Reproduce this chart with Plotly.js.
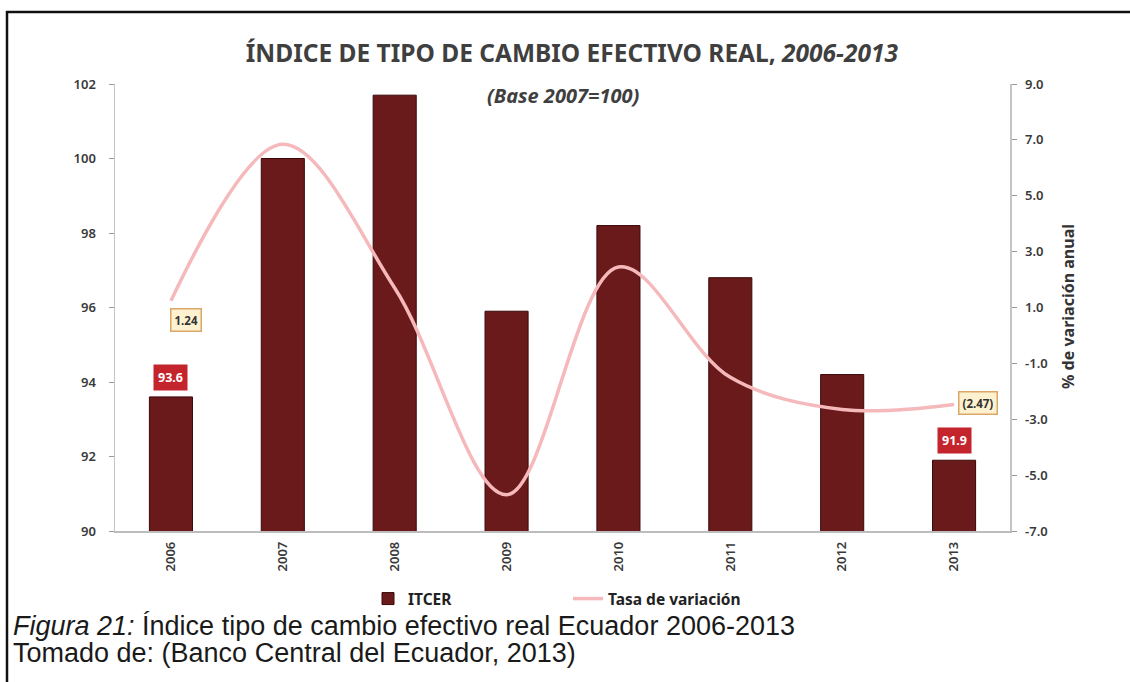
<!DOCTYPE html>
<html>
<head>
<meta charset="utf-8">
<script src="https://cdn.plot.ly/plotly-3.0.1.min.js"></script>
<style>html,body{margin:0;padding:0;background:#fff;}#chart{width:1130px;height:682px;}</style>
</head>
<body>
<div id="chart"></div>
<script>
// ---- data ----
var years = ['2006', '2007', '2008', '2009', '2010', '2011', '2012', '2013'];
var itcer = [93.6, 100.0, 101.7, 95.9, 98.2, 96.8, 94.2, 91.9];
var tasaVariacion = [1.24, 6.84, 1.70, -5.70, 2.45, -1.50, -2.65, -2.47];
var leftTicks = [90, 92, 94, 96, 98, 100, 102];
var rightTicks = [-7, -5, -3, -1, 1, 3, 5, 7, 9];
var rightTickLabels = ['-7.0', '-5.0', '-3.0', '-1.0', '1.0', '3.0', '5.0', '7.0', '9.0'];

// plot box in pixels (used only to convert decorations to paper coords)
var W = 1130, H = 682, L = 115, R = 120, T = 84, B = 151;
var pw = W - L - R, ph = H - T - B;
function px(x) { return (x - L) / pw; }
function py(y) { return (H - B - y) / ph; }

var tickFont = {family: 'Noto Sans, sans-serif', size: 13, color: '#3a3a3a', weight: 600};
var first = 0, last = years.length - 1;

var traces = [
  {
    type: 'bar', name: 'ITCER', x: years, y: itcer, yaxis: 'y',
    marker: {color: '#6a1a1a', line: {color: '#3a0808', width: 1}},
    width: 0.385
  },
  {
    type: 'scatter', mode: 'lines', name: 'Tasa de variación', x: years, y: tasaVariacion, yaxis: 'y2',
    line: {color: '#f5b9bc', width: 3.5, shape: 'spline', smoothing: 1}
  }
];

var ann = [];
// value labels (x given as category index)
ann.push({x: first, y: itcer[first], xref: 'x', yref: 'y', text: '<b>' + itcer[first].toFixed(1) + '</b>',
  showarrow: false, xanchor: 'center', yanchor: 'bottom', yshift: 6, bgcolor: '#c4252c', borderpad: 4,
  font: {family: 'Noto Sans, sans-serif', size: 12.5, color: '#ffffff'}});
ann.push({x: last, y: itcer[last], xref: 'x', yref: 'y', text: '<b>' + itcer[last].toFixed(1) + '</b>',
  showarrow: false, xanchor: 'center', yanchor: 'bottom', yshift: 6, bgcolor: '#c4252c', borderpad: 4,
  font: {family: 'Noto Sans, sans-serif', size: 12.5, color: '#ffffff'}});
ann.push({x: first, y: tasaVariacion[first], xref: 'x', yref: 'y2', text: '<b>' + tasaVariacion[first].toFixed(2) + '</b>',
  showarrow: false, xanchor: 'center', yanchor: 'middle', xshift: 15, yshift: -19,
  bgcolor: '#fdf1cf', bordercolor: '#dba768', borderwidth: 1.5, borderpad: 3,
  font: {family: 'Noto Sans, sans-serif', size: 11.5, color: '#333333'}});
ann.push({x: last, y: tasaVariacion[last], xref: 'x', yref: 'y2', text: '<b>(' + Math.abs(tasaVariacion[last]).toFixed(2) + ')</b>',
  showarrow: false, xanchor: 'left', yanchor: 'middle', xshift: 4, yshift: 1,
  bgcolor: '#fdf1cf', bordercolor: '#dba768', borderwidth: 1.5, borderpad: 3,
  font: {family: 'Noto Sans, sans-serif', size: 11.5, color: '#333333'}});
// subtitle
ann.push({x: px(563), y: py(95), xref: 'paper', yref: 'paper', xanchor: 'center', yanchor: 'middle',
  text: '<b><i>(Base 2007=100)</i></b>',
  showarrow: false, font: {family: 'Noto Sans, sans-serif', size: 20, color: '#3f3f3f'}});
// right axis title
ann.push({x: px(1068), y: py(307), xref: 'paper', yref: 'paper', xanchor: 'center', yanchor: 'middle',
  text: '<b>% de variación anual</b>', textangle: -90,
  showarrow: false, font: {family: 'Noto Sans, sans-serif', size: 16, color: '#333333'}});
// caption
ann.push({x: px(11), y: py(626), xref: 'paper', yref: 'paper', xanchor: 'left', yanchor: 'middle',
  text: '<i>Figura 21:</i> Índice tipo de cambio efectivo real Ecuador 2006-2013',
  showarrow: false, font: {family: 'Liberation Sans, Arial, sans-serif', size: 27, color: '#1a1a1a'}});
ann.push({x: px(11), y: py(653), xref: 'paper', yref: 'paper', xanchor: 'left', yanchor: 'middle',
  text: 'Tomado de: (Banco Central del Ecuador, 2013)',
  showarrow: false, font: {family: 'Liberation Sans, Arial, sans-serif', size: 27, color: '#1a1a1a'}});

var layout = {
  width: W, height: H,
  margin: {l: L, r: R, t: T, b: B},
  paper_bgcolor: '#ffffff', plot_bgcolor: 'rgba(0,0,0,0)',
  title: {text: '<b>ÍNDICE DE TIPO DE CAMBIO EFECTIVO REAL, <i>2006-2013</i></b>',
    x: px(568), xanchor: 'center', y: 1 - 53 / H, yanchor: 'middle',
    font: {family: 'Noto Sans, sans-serif', size: 24.5, color: '#3f3f3f', weight: 600}},
  showlegend: true,
  legend: {orientation: 'h', x: px(368), xanchor: 'left', y: py(599), yanchor: 'middle',
    entrywidth: 155, entrywidthmode: 'pixels',
    font: {family: 'Noto Sans, sans-serif', size: 15.5, color: '#222222', weight: 700},
    bgcolor: 'rgba(0,0,0,0)'},
  xaxis: {type: 'category', range: [-0.5, 7.5], tickangle: -90, tickfont: tickFont,
    showline: true, linecolor: '#bdbdbd', linewidth: 1.5, ticks: '', showgrid: false, zeroline: false,
    ticklabelstandoff: 4},
  yaxis: {range: [90, 102], tickvals: leftTicks, tickfont: tickFont, showline: true, linecolor: '#c4c4c4', linewidth: 1.5,
    ticks: 'outside', ticklen: 5, tickcolor: '#9a9a9a', showgrid: false, zeroline: false, ticklabelstandoff: 10},
  yaxis2: {range: [-7, 9], overlaying: 'y', side: 'right', tickvals: rightTicks, ticktext: rightTickLabels,
    tickfont: tickFont, showline: true, linecolor: '#c4c4c4', linewidth: 1.5,
    ticks: 'outside', ticklen: 5, tickcolor: '#9a9a9a', showgrid: false, zeroline: false, ticklabelstandoff: 6},
  annotations: ann,
  shapes: [
    {type: 'line', xref: 'paper', yref: 'paper', x0: px(6), x1: px(1131), y0: py(12), y1: py(12), line: {color: '#111', width: 2.5}},
    {type: 'line', xref: 'paper', yref: 'paper', x0: px(7), x1: px(7), y0: py(11), y1: py(683), line: {color: '#111', width: 2.5}}
  ]
};

Plotly.newPlot('chart', traces, layout, {displayModeBar: false, staticPlot: true});
</script>
</body>
</html>
